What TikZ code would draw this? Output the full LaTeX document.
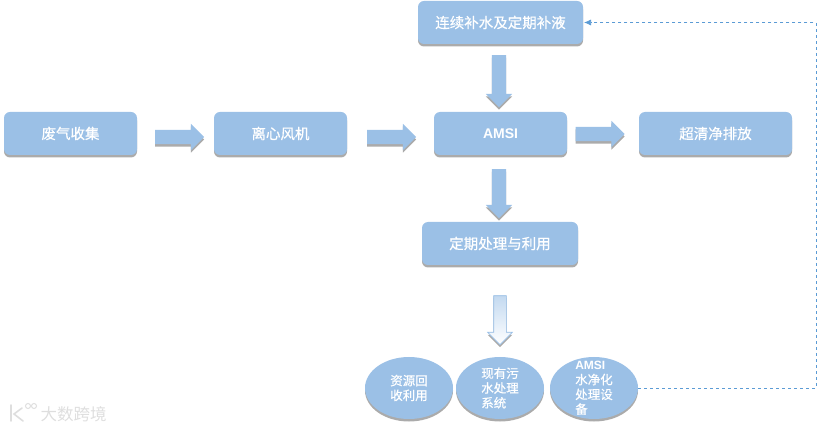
\documentclass[tikz,border=0pt]{standalone}
\usepackage{fontspec}
\usepackage{xcolor}
\setmainfont{Liberation Sans}
\newfontfamily\cjkbold[FakeBold=0.6]{Noto Sans CJK SC}
\newfontfamily\cjkplain{Noto Sans CJK SC}
\usetikzlibrary{positioning,arrows.meta,shapes.geometric,shapes.arrows,shadows}
\definecolor{cBox}{RGB}{155,192,230}
\definecolor{cLink}{RGB}{91,155,213}
\definecolor{cMark}{RGB}{222,222,222}
\begin{document}
\begin{tikzpicture}[x=1pt,y=-1pt]
\tikzset{
  sdw/.style={drop shadow={shadow xshift=0pt,shadow yshift=-2.5pt,opacity=.55,fill=black!60}},
  b/.style={fill=cBox,rounded corners=6pt,minimum height=43pt,minimum width=133pt,inner sep=0pt,outer sep=0pt,align=center,text=white,font=\fontsize{14.5}{17}\cjkbold,sdw},
  el/.style={ellipse,fill=cBox,minimum width=88pt,minimum height=62pt,inner sep=0pt,align=left,text=white,font=\fontsize{12.5}{14.8}\cjkbold,sdw},
  ar/.style={single arrow,fill=cBox,inner sep=7pt,minimum width=24pt,minimum height=49pt,single arrow head extend=6pt,single arrow head indent=0pt,sdw},
  ardown/.style={ar,shape border rotate=270},
  back/.style={cLink,dashed,line width=.7pt,-{Latex[length=7pt,width=6pt]}}
}
\useasboundingbox (0,0) rectangle (817,430);
% main line
\node[b] (gas) at (70.5,133.5) {废气收集};
\node[b,right=77pt of gas] (fan) {离心风机};
\node[b,right=87pt of fan] (amsi) {{\rmfamily\bfseries\fontsize{14}{17}\selectfont AMSI}};
\node[b,minimum width=153pt,right=72pt of amsi] (clean) {超清净排放};
\node[ar] (a1) at (176,137) {};
\node[ar] (a2) at (388,137) {};
\node[ar] (a3) at (596.5,134) {};
% top and bottom of AMSI
\node[b,minimum width=165pt] (make) at (500.5,22.5) {连续补水及定期补液};
\node[b,minimum width=156pt] (reuse) at (500,243.5) {定期处理与利用};
\node[ardown,minimum height=52pt] (a4) at (499,77.5) {};
\node[ardown] (a5) at (499,190) {};
\node[ardown,inner sep=6pt,draw=cBox,line width=.7pt,top color=cBox!60,bottom color=white,drop shadow={opacity=0}] (a6) at (500,317) {};
% outlets
\node[el] (res) at (409,388) {资源回\\收利用};
\node[el] (sewage) at (500,388) {现有污\\水处理\\系统};
\node[el,inner sep=-8pt] (unit) at (594,388) {{\rmfamily\bfseries\fontsize{12}{14.8}\selectfont AMSI}\\水净化\\处理设\\备};
% feedback
\coordinate (turn) at (816,388);
\draw[back] (unit.east) -- (turn) -- (turn |- make.east) -- ([xshift=1pt]make.east);
% mark
\node[text=cMark,font=\fontsize{16.5}{18}\cjkplain,inner sep=0pt] (mark) at (73.5,414) {大数跨境};
\draw[cMark,line width=1.6pt,line cap=round] (11,405) -- (11,421) (22,408) -- (14,414) -- (23,421);
\draw[cMark,line width=1pt] (28,406) circle (2.5pt) (34,406) circle (2.5pt);
\end{tikzpicture}
\end{document}
